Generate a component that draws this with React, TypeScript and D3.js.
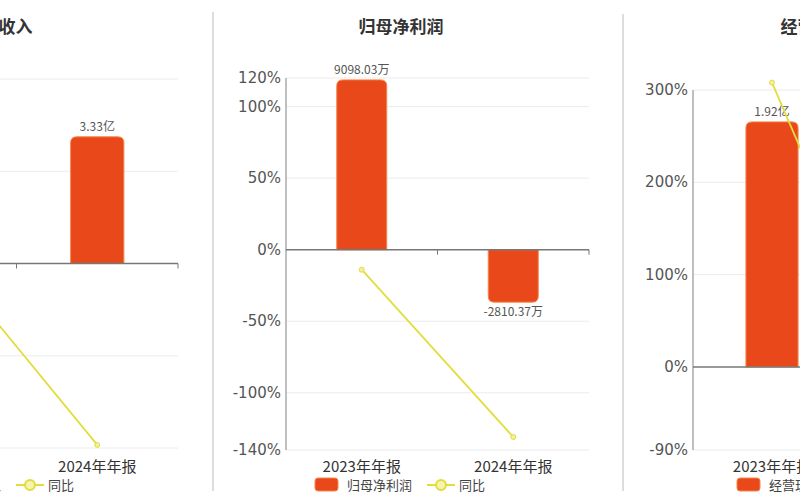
import React from 'react';
import * as d3 from 'd3';

// ---------- data ----------
const categories = ['2023年年报', '2024年年报'];

const revenueTitle = '营业总收入';
const revenueValues = [4.72, 3.33]; // 亿
const revenueLabels = ['4.72亿', '3.33亿'];
const revenueYoy = [2.5, -29.5];
const revenueTicks = [-30, -15, 0, 15, 30];

const profitTitle = '归母净利润';
const profitValues = [9098.03, -2810.37]; // 万
const profitLabels = ['9098.03万', '-2810.37万'];
const profitYoy = [-14, -130.9];
const profitTicks = [-140, -100, -50, 0, 50, 100, 120];

const cashTitle = '经营现金流';
const cashValues = [1.92, 0.23]; // 亿
const cashLabels = ['1.92亿', '0.23亿'];
const cashYoy = [308, -88];
const cashTicks = [-90, 0, 100, 200, 300];

const yoyName = '同比';

// ---------- layout ----------
const BAR = '#e8481a';
const BAR_EDGE = '#f3874a';
const LINE = '#e2dd3c';
const FONT = '"DejaVu Sans", Verdana, sans-serif';
const CJK = '"Noto Sans CJK SC", "DejaVu Sans", sans-serif';

const panels = [
  {
    title: revenueTitle, values: revenueValues, labels: revenueLabels, yoy: revenueYoy, ticks: revenueTicks,
    cx: -10, x0: -145, x1: 178, yTop: 79, yBot: 448, barMax: 4.85, showTicks: false,
  },
  {
    title: profitTitle, values: profitValues, labels: profitLabels, yoy: profitYoy, ticks: profitTicks,
    cx: 401, x0: 286, x1: 589, yTop: 78, yBot: 450, barMax: 9200, showTicks: true,
  },
  {
    title: cashTitle, values: cashValues, labels: cashLabels, yoy: cashYoy, ticks: cashTicks,
    cx: 823, x0: 693, x1: 1009, yTop: 90, yBot: 450, barMax: 2.17, showTicks: true,
  },
];

function barPath(x: number, w: number, y0: number, y1: number, r: number) {
  const top = Math.min(y0, y1);
  const bot = Math.max(y0, y1);
  const h = bot - top;
  const rr = Math.min(r, h, w / 2);
  if (y1 <= y0) {
    return `M${x},${bot}V${top + rr}Q${x},${top} ${x + rr},${top}H${x + w - rr}Q${x + w},${top} ${x + w},${top + rr}V${bot}Z`;
  }
  return `M${x},${top}V${bot - rr}Q${x},${bot} ${x + rr},${bot}H${x + w - rr}Q${x + w},${bot} ${x + w},${bot - rr}V${top}Z`;
}

function Panel({ p }: { p: (typeof panels)[number] }) {
  const yMin = d3.min(p.ticks) as number;
  const yMax = d3.max(p.ticks) as number;
  const y = d3.scaleLinear().domain([yMin, yMax]).range([p.yBot, p.yTop]);
  const y0 = y(0);
  const barY = d3.scaleLinear().domain([0, p.barMax]).range([y0, p.yTop]);
  const x = d3.scaleBand<string>().domain(categories).range([p.x0, p.x1]).paddingInner(0).paddingOuter(0);
  const bw = x.bandwidth() * 0.33;
  const cxOf = (i: number) => (x(categories[i]) as number) + x.bandwidth() / 2;
  const lineGen = d3
    .line<number>()
    .x((_, i) => cxOf(i))
    .y((d) => y(d));

  return (
    <g>
      <text x={p.cx} y={33} textAnchor="middle" fontFamily={CJK} fontWeight="bold" fontSize={17} fill="#333">
        {p.title}
      </text>
      {p.ticks.map((t) =>
        t === 0 ? null : (
          <line key={'g' + t} x1={p.x0} x2={p.x1} y1={y(t)} y2={y(t)} stroke="#ececec" strokeWidth={1} />
        )
      )}
      <line x1={p.x0} x2={p.x0} y1={p.yTop} y2={p.yBot} stroke="#aaa" strokeWidth={1.5} />
      {p.showTicks &&
        p.ticks.map((t) => (
          <text key={'t' + t} x={p.x0 - 5} y={y(t) + 5} textAnchor="end" fontFamily={FONT} fontSize={15} fill="#555">
            {t + '%'}
          </text>
        ))}
      {p.values.map((v, i) => {
        const bx = (x(categories[i]) as number) + (x.bandwidth() - bw) / 2;
        const by = barY(v);
        return (
          <g key={'b' + i}>
            <path d={barPath(bx, bw, y0, by, 6)} fill={BAR} stroke={BAR_EDGE} strokeWidth={1} />
            <text
              x={bx + bw / 2}
              y={v >= 0 ? by - 6 : by + 14}
              textAnchor="middle"
              fontFamily={CJK}
              fontSize={12}
              fill="#555"
            >
              {p.labels[i]}
            </text>
          </g>
        );
      })}
      <line x1={p.x0} x2={p.x1} y1={y0} y2={y0} stroke="#777" strokeWidth={1.5} />
      {categories.map((c, i) => (
        <line
          key={'xt' + i}
          x1={(x(c) as number) + x.bandwidth()}
          x2={(x(c) as number) + x.bandwidth()}
          y1={y0}
          y2={y0 + 5}
          stroke="#777"
          strokeWidth={1}
        />
      ))}
      <path d={lineGen(p.yoy) as string} fill="none" stroke={LINE} strokeWidth={1.8} />
      {p.yoy.map((v, i) => (
        <circle key={'p' + i} cx={cxOf(i)} cy={y(v)} r={2.5} fill="#f4f0a0" stroke={LINE} strokeWidth={1} />
      ))}
      {categories.map((c, i) => (
        <text key={'c' + c} x={cxOf(i)} y={472} textAnchor="middle" fontFamily={CJK} fontSize={15} fill="#333">
          {c}
        </text>
      ))}
      <rect x={p.cx - 86} y={478} width={23} height={13} rx={3} fill={BAR} stroke={BAR_EDGE} />
      <text x={p.cx - 54} y={490} fontFamily={CJK} fontSize={13} fill="#444">
        {p.title}
      </text>
      <line x1={p.cx + 26} x2={p.cx + 54} y1={485} y2={485} stroke={LINE} strokeWidth={2} />
      <circle cx={p.cx + 40} cy={485} r={5} fill="#f6f3b0" stroke={LINE} strokeWidth={2} />
      <text x={p.cx + 58} y={490} fontFamily={CJK} fontSize={13} fill="#444">
        {yoyName}
      </text>
    </g>
  );
}

export default function App() {
  return (
    <svg width={800} height={500} style={{ position: 'absolute', left: 0, top: 0, background: '#fff' }} viewBox="0 0 800 500">
      <rect x={0} y={0} width={800} height={500} fill="#fff" />
      {panels.map((p, i) => (
        <Panel key={i} p={p} />
      ))}
      <line x1={213} x2={213} y1={12} y2={491} stroke="#ddd" strokeWidth={2} />
      <line x1={623} x2={623} y1={14} y2={491} stroke="#ddd" strokeWidth={2} />
    </svg>
  );
}
